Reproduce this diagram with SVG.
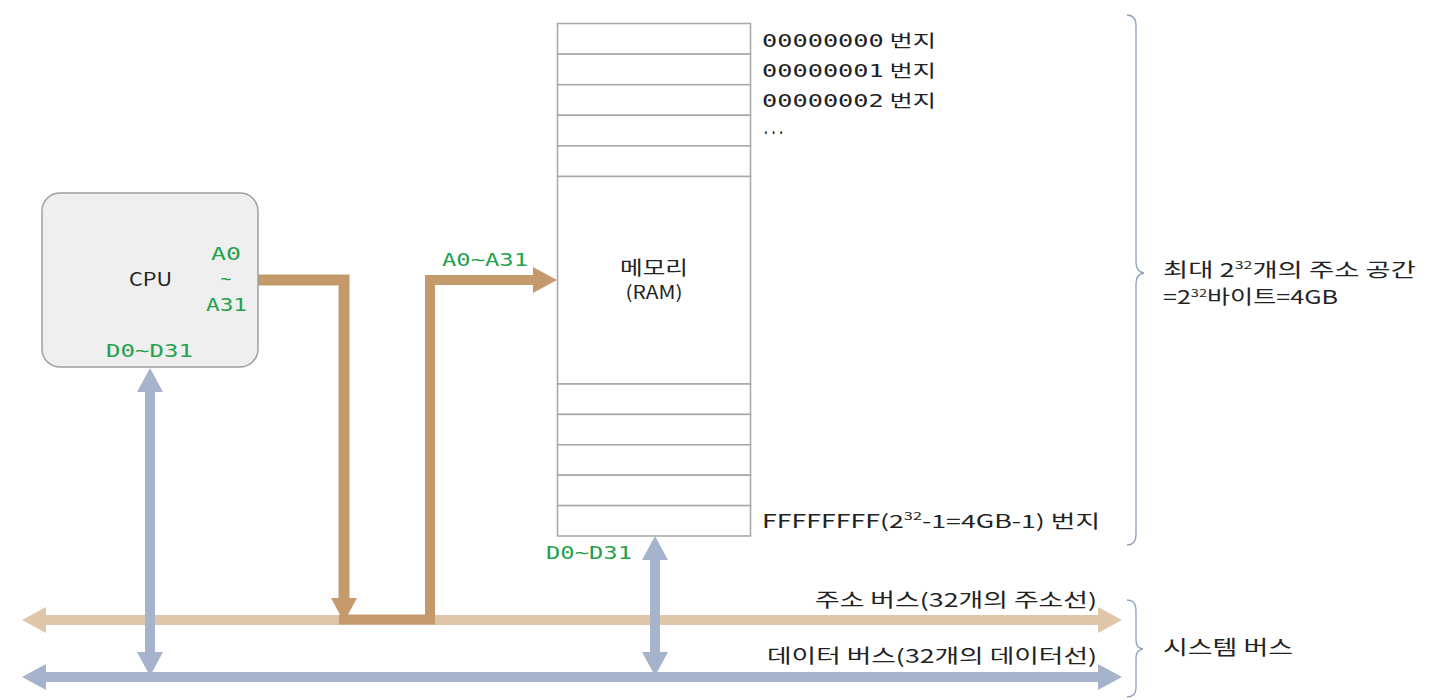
<svg xmlns="http://www.w3.org/2000/svg" width="1440" height="700" viewBox="0 0 1440 700">
<style>
.lbl{font-family:"Noto Sans CJK KR","Noto Sans",sans-serif;fill:#222;}
.mono{font-family:"DejaVu Sans Mono","Liberation Mono",monospace;fill:#222;}
.grn{font-family:"DejaVu Sans Mono","Liberation Mono",monospace;fill:#1fa24c;}
.cell{fill:#ffffff;stroke:#a6a6a6;stroke-width:1.5;}
.brace{fill:none;stroke:#8fa0bc;stroke-width:1.3;}
</style>
<defs>
<marker id="hTan" viewBox="0 0 24 26" refX="0" refY="13" markerWidth="24" markerHeight="26" markerUnits="userSpaceOnUse" orient="auto-start-reverse"><path d="M0,0 L24,13 L0,26 z" fill="#dfc6a9"/></marker>
<marker id="hBlue" viewBox="0 0 24 26" refX="0" refY="13" markerWidth="24" markerHeight="26" markerUnits="userSpaceOnUse" orient="auto-start-reverse"><path d="M0,0 L24,13 L0,26 z" fill="#a5b4cc"/></marker>
<marker id="hBrown" viewBox="0 0 24 26" refX="0" refY="13" markerWidth="24" markerHeight="26" markerUnits="userSpaceOnUse" orient="auto-start-reverse"><path d="M0,0 L24,13 L0,26 z" fill="#c49a6c"/></marker>
</defs>
<rect width="1440" height="700" fill="#ffffff"/>

<g id="connectors">
<path d="M46,620 H1098" stroke="#dfc6a9" stroke-width="10" fill="none" marker-start="url(#hTan)" marker-end="url(#hTan)"/>
<path d="M46,677 H1098" stroke="#a5b4cc" stroke-width="10" fill="none" marker-start="url(#hBlue)" marker-end="url(#hBlue)"/>
<path d="M258,280 H344 V598" stroke="#c49a6c" stroke-width="11" fill="none" stroke-linejoin="miter" marker-end="url(#hBrown)"/>
<path d="M339,619.5 H430 V280 H533" stroke="#c49a6c" stroke-width="10" fill="none" stroke-linejoin="miter" marker-end="url(#hBrown)"/>
<path d="M150,392 V652" stroke="#a5b4cc" stroke-width="10" fill="none" marker-start="url(#hBlue)" marker-end="url(#hBlue)"/>
<path d="M655,560 V652" stroke="#a5b4cc" stroke-width="10" fill="none" marker-start="url(#hBlue)" marker-end="url(#hBlue)"/>
</g>

<g id="cpu">
<rect x="42" y="193" width="216" height="174" rx="18" fill="#efefef" stroke="#a0a0a0" stroke-width="1.5"/>
<text class="lbl" x="129" y="286" font-size="18" textLength="43" lengthAdjust="spacingAndGlyphs">CPU</text>
<text class="grn" x="211" y="260" font-size="18" textLength="30" lengthAdjust="spacingAndGlyphs">A0</text>
<text class="grn" x="226" y="285" font-size="18" text-anchor="middle">~</text>
<text class="grn" x="206" y="311" font-size="18" textLength="41" lengthAdjust="spacingAndGlyphs">A31</text>
<text class="grn" x="106" y="357" font-size="18" textLength="87" lengthAdjust="spacingAndGlyphs">D0~D31</text>
</g>

<g id="addr-label">
<text class="grn" x="442" y="266" font-size="18" textLength="86" lengthAdjust="spacingAndGlyphs">A0~A31</text>
</g>

<g id="memory">
<rect class="cell" x="557.5" y="23.5" width="193" height="30.6"/>
<rect class="cell" x="557.5" y="54.1" width="193" height="30.6"/>
<rect class="cell" x="557.5" y="84.7" width="193" height="30.6"/>
<rect class="cell" x="557.5" y="115.3" width="193" height="30.6"/>
<rect class="cell" x="557.5" y="145.9" width="193" height="30.6"/>
<rect class="cell" x="557.5" y="176.5" width="193" height="207.5"/>
<rect class="cell" x="557.5" y="384" width="193" height="30.4"/>
<rect class="cell" x="557.5" y="414.4" width="193" height="30.4"/>
<rect class="cell" x="557.5" y="444.8" width="193" height="30.4"/>
<rect class="cell" x="557.5" y="475.2" width="193" height="30.4"/>
<rect class="cell" x="557.5" y="505.6" width="193" height="30.4"/>
<text class="lbl" x="654" y="275" font-size="19" text-anchor="middle" textLength="68" lengthAdjust="spacingAndGlyphs">메모리</text>
<text class="lbl" x="654" y="299" font-size="18" text-anchor="middle" textLength="57" lengthAdjust="spacingAndGlyphs">(RAM)</text>
<text class="grn" x="546" y="559" font-size="18" textLength="86" lengthAdjust="spacingAndGlyphs">D0~D31</text>
</g>

<g id="addresses">
<text class="mono" x="762" y="47" font-size="17" textLength="174" lengthAdjust="spacingAndGlyphs">00000000<tspan class="lbl"> 번지</tspan></text>
<text class="mono" x="762" y="77" font-size="17" textLength="174" lengthAdjust="spacingAndGlyphs">00000001<tspan class="lbl"> 번지</tspan></text>
<text class="mono" x="762" y="107" font-size="17" textLength="174" lengthAdjust="spacingAndGlyphs">00000002<tspan class="lbl"> 번지</tspan></text>
<text class="mono" x="762" y="134" font-size="17" textLength="23" lengthAdjust="spacingAndGlyphs">...</text>
<text class="lbl" x="762" y="528" font-size="18" textLength="338" lengthAdjust="spacingAndGlyphs">FFFFFFFF(2<tspan font-size="11" dy="-8">32</tspan><tspan dy="8">-1=4GB-1) 번지</tspan></text>
</g>

<g id="address-space">
<path class="brace" d="M1127,15 Q1136,15 1136,26 L1136,262 Q1136,272 1144,273 Q1136,274 1136,284 L1136,534 Q1136,545 1127,545"/>
<text class="lbl" x="1163" y="277" font-size="19" textLength="253" lengthAdjust="spacingAndGlyphs">최대 2<tspan font-size="11" dy="-8">32</tspan><tspan dy="8">개의 주소 공간</tspan></text>
<text class="lbl" x="1163" y="304" font-size="19" textLength="175" lengthAdjust="spacingAndGlyphs">=2<tspan font-size="11" dy="-7">32</tspan><tspan dy="7">바이트=4GB</tspan></text>
</g>

<g id="bus-labels">
<text class="lbl" x="1097" y="607" font-size="19" text-anchor="end" textLength="282" lengthAdjust="spacingAndGlyphs">주소 버스(32개의 주소선)</text>
<text class="lbl" x="1097" y="663" font-size="19" text-anchor="end" textLength="330" lengthAdjust="spacingAndGlyphs">데이터 버스(32개의 데이터선)</text>
</g>

<g id="system-bus">
<path class="brace" d="M1127,600 Q1136,600 1136,610 L1136,640 Q1136,648 1143,649 Q1136,650 1136,658 L1136,688 Q1136,697 1127,697"/>
<text class="lbl" x="1163" y="655" font-size="20" textLength="130" lengthAdjust="spacingAndGlyphs">시스템 버스</text>
</g>
</svg>
